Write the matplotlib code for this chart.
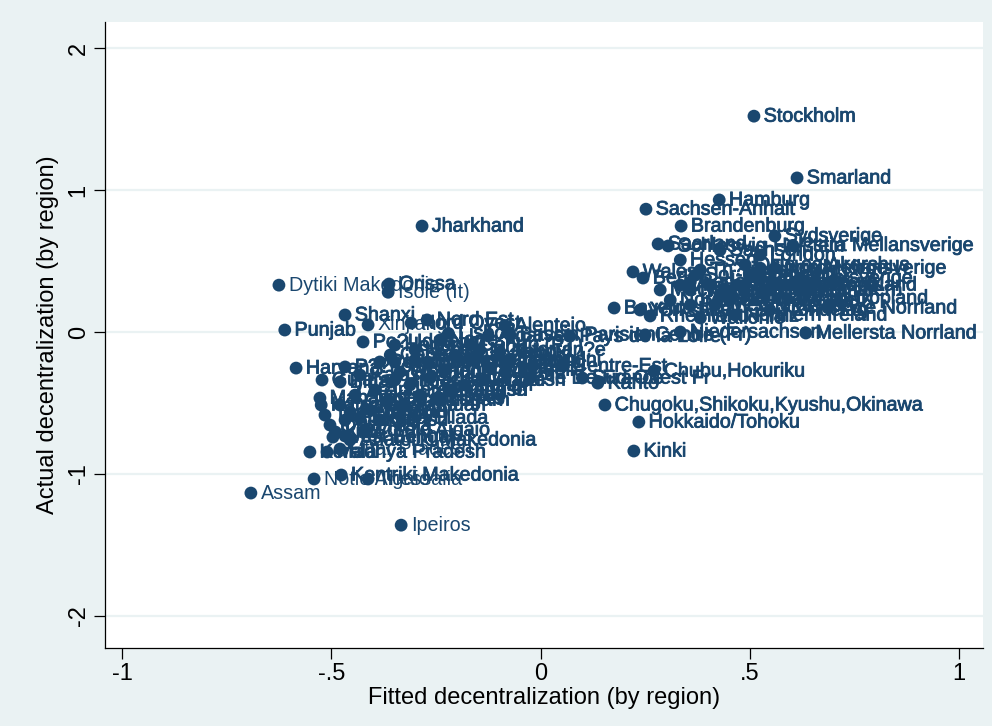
import matplotlib
matplotlib.use("Agg")
import matplotlib.pyplot as plt
import matplotlib.patheffects as pe

plt.rcParams['font.family'] = ['Liberation Sans', 'DejaVu Sans']

# ---- data: (region label, fitted, actual) ----
names = [
    "Dytiki Makedonia", "Orissa", "Isole (It)", "Jharkhand", "Shanxi", "Xinjiang",
    "Nord Ovest", "Nord Est", "Punjab", "Po?Udniowy", "Alentejo", "Lisboa", "Norte",
    "Centro (PT)", "Algarve", "Haryana", "P??nocny", "Centralny", "Wschodni",
    "Po?udniowo-Zachodni", "P??nocno-Zachodni", "Est", "Centre-Est", "?le De France",
    "Sud-Ouest Fr", "M?diterran?e", "Bassin Parisien", "Chubu,Hokuriku", "Kanto",
    "Chugoku,Shikoku,Kyushu,Okinawa", "Hokkaido/Tohoku", "Kinki", "Peloponnisos",
    "Kerala", "Uttar Pradesh", "Madhya Pradesh", "Kentriki Makedonia", "Notio Aigaio",
    "Thessalia", "Assam", "Ipeiros", "Sud (It)", "Centro (It)", "Kriti", "Attiki",
    "Dytiki Ellada", "Sterea Ellada", "Ionia Nisia", "Voreio Aigaio",
    "Anatoliki Makedonia", "Gujarat", "Maharashtra", "Karnataka", "Tamil Nadu",
    "West Bengal", "Bihar", "Rajasthan", "Andhra Pradesh", "Himachal Pradesh",
    "Chhattisgarh", "Guangdong", "Shandong", "Jiangsu", "Zhejiang", "Sichuan",
    "Hubei", "Hunan", "Henan", "Hebei", "Beijing", "Shanghai", "Yunnan", "Gansu",
    "Inner Mongolia", "Liaoning", "Fujian", "Anhui", "Jiangxi", "Heilongjiang",
    "Tianjin", "Jilin", "Pays de la Loire", "Centre (Fr)",
    "Stockholm", "Smarland", "Hamburg", "Sachsen-Anhalt", "Brandenburg", "Sydsverige",
    "?stra Mellansverige", "Norra Mellansverige", "V?stsverige", "?vre Norrland",
    "Mellersta Norrland", "Niedersachsen", "Saarland", "Schleswig-Holstein", "Wales",
    "Berlin", "Bayern", "Yorkshire", "Rheinland-Pfalz", "North East UK", "Hessen",
    "Baden-W?rttemberg", "Nordrhein-Westfalen", "Th?ringen", "Sachsen",
    "Mecklenburg-Vorpommern", "Bremen", "London", "South East UK", "South West UK",
    "East Midlands", "West Midlands", "North West UK", "Scotland", "Northern Ireland",
    "Eastern UK", "Vlaams Gewest", "Wallonie", "Bruxelles", "Oslo og Akershus",
    "Hedmark og Oppland", "Vestlandet", "Trondelag", "Agder og Rogaland", "Nord-Norge",
    "Sor-Ostlandet",
]
fitted = [
    -0.625, -0.362, -0.364, -0.283, -0.467, -0.412,
    -0.309, -0.271, -0.611, -0.424, -0.085, -0.220, -0.240,
    -0.168, -0.125, -0.584, -0.467, -0.359, -0.336,
    -0.384, -0.300, -0.018, 0.054, -0.025,
    0.100, -0.145, -0.073, 0.271, 0.137,
    0.154, 0.235, 0.223, -0.467,
    -0.551, -0.479, -0.510, -0.476, -0.541,
    -0.412, -0.692, -0.333, -0.467, -0.455, -0.490, -0.443,
    -0.479, -0.431, -0.503, -0.419,
    -0.455, -0.522, -0.527, -0.524, -0.515,
    -0.496, -0.479, -0.431, -0.395, -0.348,
    -0.364, -0.312, -0.264, -0.216, -0.288, -0.324,
    -0.240, -0.180, -0.348, -0.300, -0.269, -0.204, -0.407, -0.383,
    -0.228, -0.168, -0.121, -0.133, -0.097, -0.348,
    -0.073, -0.085, 0.070, 0.250,
    0.510, 0.613, 0.427, 0.252, 0.336, 0.560,
    0.603, 0.525, 0.620, 0.687,
    0.634, 0.334, 0.281, 0.305, 0.221,
    0.245, 0.176, 0.238, 0.262, 0.429, 0.334,
    0.358, 0.310, 0.382, 0.429,
    0.286, 0.358, 0.525, 0.489, 0.453,
    0.405, 0.417, 0.358, 0.500, 0.465,
    0.548, 0.334, 0.382, 0.525, 0.489,
    0.455, 0.441, 0.548, 0.470, 0.560,
    0.370,
]
actual = [
    0.330, 0.338, 0.280, 0.746, 0.120, 0.050,
    0.063, 0.085, 0.014, -0.070, 0.045, -0.010, -0.056,
    -0.090, -0.028, -0.254, -0.246, -0.162, -0.282,
    -0.211, -0.197, -0.240, -0.240, -0.324,
    -0.324, -0.127, -0.020, -0.275, -0.360,
    -0.514, -0.634, -0.838, -0.732,
    -0.845, -0.824, -0.845, -1.007, -1.035,
    -1.035, -1.134, -1.360, -0.620, -0.563, -0.704, -0.444,
    -0.514, -0.606, -0.655, -0.690,
    -0.760, -0.338, -0.465, -0.514, -0.585,
    -0.740, -0.352, -0.303, -0.408, -0.338,
    -0.479, -0.373, -0.324, -0.408, -0.444, -0.514,
    -0.465, -0.373, -0.092, -0.127, -0.211, -0.162, -0.549, -0.620,
    -0.268, -0.197, -0.254, -0.338, -0.141, -0.211,
    -0.197, -0.282, -0.030, -0.020,
    1.520, 1.085, 0.930, 0.865, 0.746, 0.676,
    0.610, 0.450, 0.380, 0.170,
    -0.007, 0.000, 0.620, 0.606, 0.423,
    0.380, 0.169, 0.155, 0.113, 0.260, 0.507,
    0.352, 0.225, 0.437, 0.577,
    0.296, 0.190, 0.542, 0.331, 0.225,
    0.331, 0.190, 0.296, 0.401, 0.120,
    0.296, 0.331, 0.099, 0.366, 0.472,
    0.239, 0.296, 0.155, 0.331, 0.450,
    0.401,
]
light_labels = ["Dytiki Makedonia", "Isole (It)", "Xinjiang", "Notio Aigaio", "Assam",
                "Ipeiros", "Thessalia", "Peloponnisos", "Uttar Pradesh"]

xticks = [-1, -0.5, 0, 0.5, 1]
xticklabels = ["-1", "-.5", "0", ".5", "1"]
yticks = [-2, -1, 0, 1, 2]
yticklabels = ["-2", "-1", "0", "1", "2"]

navy = "#1a476f"
bg = "#eaf2f3"

fig = plt.figure(figsize=(9.92, 7.26), dpi=100, facecolor=bg)
ax = fig.add_axes([105/992, 78/726, 878/992, 626/726])
ax.set_facecolor("white")

ax.set_xlim(-1.0406, 1.0573)
ax.set_ylim(-2.225, 2.183)

for t in yticks:
    ax.axhline(t, color=bg, lw=1.6, zorder=0)

ax.scatter(fitted, actual, s=85, color=navy, edgecolors="none", zorder=3)

for n, x, y in zip(names, fitted, actual):
    heavy = n not in light_labels
    effects = [pe.withStroke(linewidth=0.6, foreground=navy)] if heavy else None
    ax.annotate(n, (x, y), xytext=(7, 0), textcoords="offset points",
                ha="left", va="center", fontsize=14.2, color=navy,
                path_effects=effects, zorder=4, annotation_clip=False)

for s in ["top", "right"]:
    ax.spines[s].set_visible(False)
for s in ["left", "bottom"]:
    ax.spines[s].set_color("black")
    ax.spines[s].set_linewidth(0.9)

ax.set_xticks(xticks)
ax.set_xticklabels(xticklabels)
ax.set_yticks(yticks)
ax.set_yticklabels(yticklabels, rotation=90, va="center")
ax.tick_params(axis="both", direction="out", length=8, width=0.9, color="black",
               labelsize=17, labelcolor="black", pad=3)

ax.set_xlabel("Fitted decentralization (by region)", fontsize=17, labelpad=1)
ax.set_ylabel("Actual decentralization (by region)", fontsize=17, labelpad=6)

fig.savefig("out.png", dpi=100, facecolor=bg)
